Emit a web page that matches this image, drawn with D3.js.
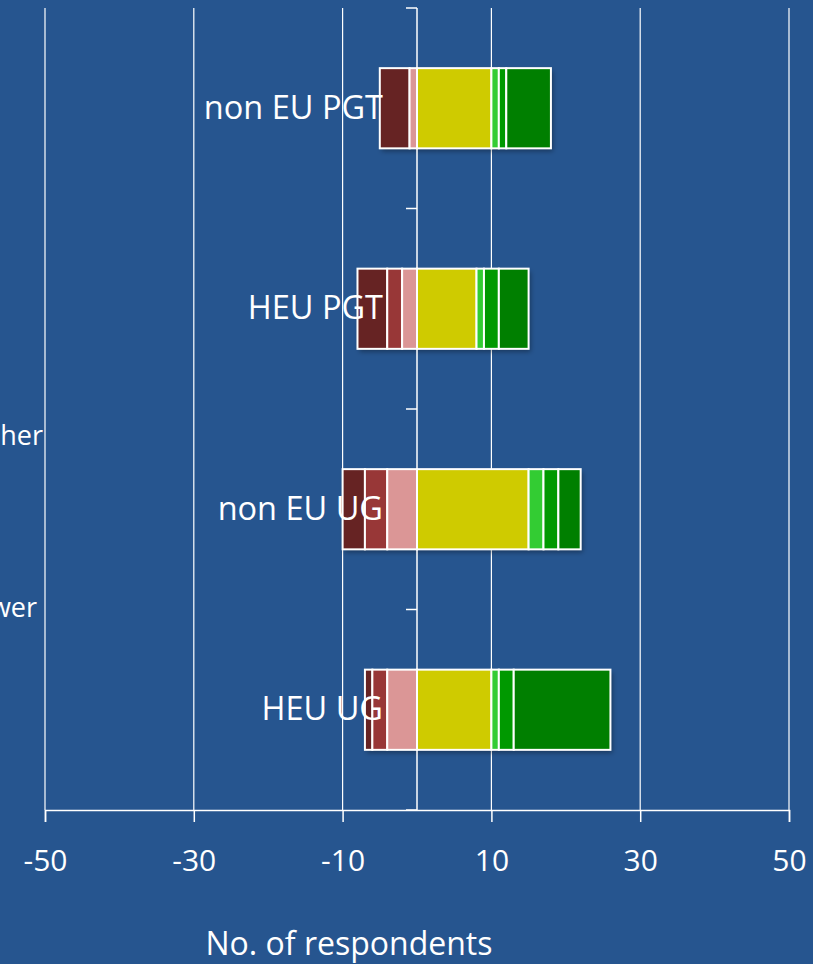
<!DOCTYPE html>
<html><head><meta charset="utf-8">
<script src="https://cdn.jsdelivr.net/npm/d3@7"></script>
<style>
html,body{margin:0;padding:0;background:#26558f;}
svg{display:block;}
text{font-family:"Open Sans","Noto Sans",sans-serif;fill:#fff;}
</style></head>
<body>
<script>
const categories = ["non EU PGT", "HEU PGT", "non EU UG", "HEU UG"];
const seriesNames = ["Strongly negative", "Negative", "Slightly negative", "Neutral", "Slightly positive", "Positive", "Strongly positive"];
// negative side (outer to inner)
const darkRed   = [4, 4, 3, 1];
const midRed    = [0, 2, 3, 2];
const pink      = [1, 2, 4, 4];
// positive side (inner to outer)
const yellow    = [10, 8, 15, 10];
const lightGreen= [1, 1, 2, 1];
const midGreen  = [1, 2, 2, 2];
const darkGreen = [6, 4, 3, 13];
const xTicks = [-50, -30, -10, 10, 30, 50];
const sideLabels = ["her", "wer"];
const axisTitle = "No. of respondents";

const colors = ["#662323", "#983737", "#db9696", "#cfcb00", "#33cc33", "#009900", "#007f00"];

const W = 813, H = 964;
const svg = d3.select("body").append("svg").attr("width", W).attr("height", H);
svg.append("rect").attr("width", W).attr("height", H).attr("fill", "#26558f");

const defs = svg.append("defs");
const f = defs.append("filter").attr("id","sh").attr("x","-10%").attr("y","-20%").attr("width","130%").attr("height","150%");
f.append("feDropShadow").attr("dx",2).attr("dy",3).attr("stdDeviation",2.5).attr("flood-color","#000").attr("flood-opacity",0.35);

const x = d3.scaleLinear().domain([-50, 50]).range([45, 789]);
const y = d3.scaleBand().domain(categories).range([8, 810]).paddingInner(0.6).paddingOuter(0.3);

// gridlines
svg.append("g").selectAll("line").data(xTicks).join("line")
  .attr("x1", d => x(d)).attr("x2", d => x(d))
  .attr("y1", 8).attr("y2", 810)
  .attr("stroke", "#fff").attr("stroke-width", 1.2);

// x axis
const xAxis = svg.append("g").attr("transform", "translate(0,810)")
  .call(d3.axisBottom(x).tickValues(xTicks).tickSize(12).tickPadding(28).tickFormat(d => String(d)));
xAxis.select(".domain").attr("stroke", "#fff").attr("stroke-width", 1.5);
xAxis.selectAll(".tick line").attr("stroke", "#fff").attr("stroke-width", 1.5);
xAxis.selectAll(".tick text").attr("fill", "#fff").style("font-size", "30px")
  .style("font-family", "'Open Sans',sans-serif").attr("dy", "0.71em");

// stacked bars
const rows = categories.map((c, i) => {
  const neg = [darkRed[i], midRed[i], pink[i]];
  const pos = [yellow[i], lightGreen[i], midGreen[i], darkGreen[i]];
  const segs = [];
  let start = -d3.sum(neg);
  neg.forEach((v, k) => { segs.push({c, k, x0: start, x1: start + v}); start += v; });
  let s2 = 0;
  pos.forEach((v, k) => { segs.push({c, k: k + 3, x0: s2, x1: s2 + v}); s2 += v; });
  return {c, segs, lo: -d3.sum(neg), hi: s2};
});

const bars = svg.append("g");
rows.forEach(r => {
  const g = bars.append("g");
  g.append("rect")
    .attr("x", x(r.lo)).attr("y", y(r.c))
    .attr("width", x(r.hi) - x(r.lo)).attr("height", y.bandwidth())
    .attr("fill", "#fff").attr("filter", "url(#sh)");
  g.selectAll("rect.seg").data(r.segs.filter(s => s.x1 > s.x0)).join("rect").attr("class","seg")
    .attr("x", s => x(s.x0)).attr("y", y(r.c))
    .attr("width", s => x(s.x1) - x(s.x0)).attr("height", y.bandwidth())
    .attr("fill", s => colors[s.k]).attr("stroke", "#fff").attr("stroke-width", 2);
});

// vertical zero axis with ticks at band boundaries
svg.append("line").attr("x1", x(0)).attr("x2", x(0)).attr("y1", 8).attr("y2", 810)
  .attr("stroke", "#fff").attr("stroke-width", 1.5);
const bounds = d3.range(categories.length + 1).map(i => y.range()[0] + i * y.step());
svg.append("g").selectAll("line").data(bounds).join("line")
  .attr("x1", x(0) - 11).attr("x2", x(0)).attr("y1", d => d).attr("y2", d => d)
  .attr("stroke", "#fff").attr("stroke-width", 1.5);

// category labels
svg.append("g").selectAll("text").data(categories).join("text")
  .attr("x", x(0) - 34).attr("y", d => y(d) + y.bandwidth() / 2 + 2)
  .attr("text-anchor", "end").attr("dominant-baseline", "middle")
  .style("font-size", "32.5px").text(d => d);

// cut-off side labels
svg.append("text").attr("x", 43).attr("y", 438).attr("text-anchor","end").attr("dominant-baseline","middle")
  .style("font-size","27px").text(sideLabels[0]);
svg.append("text").attr("x", 37).attr("y", 610).attr("text-anchor","end").attr("dominant-baseline","middle")
  .style("font-size","27px").text(sideLabels[1]);

// axis title
svg.append("text").attr("x", 349).attr("y", 955).attr("text-anchor","middle")
  .style("font-size","32px").text(axisTitle);
</script>
</body></html>
